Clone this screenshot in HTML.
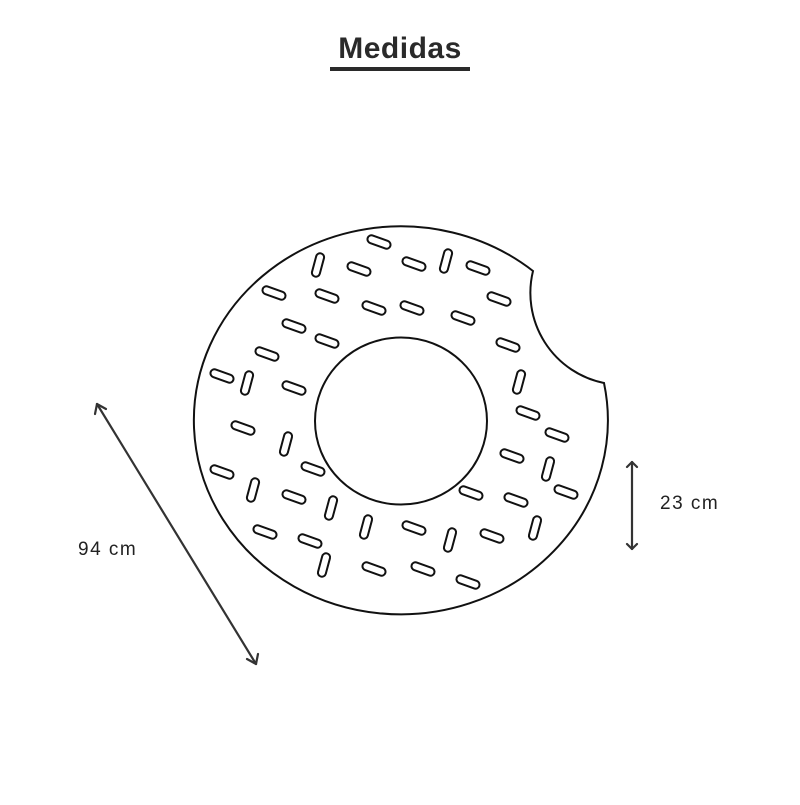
<!DOCTYPE html>
<html><head><style>
body{margin:0;background:#fff;width:800px;height:800px;overflow:hidden}
</style></head><body>
<svg width="800" height="800" viewBox="0 0 800 800" xmlns="http://www.w3.org/2000/svg">
<rect width="800" height="800" fill="#fff"/>
<text x="400" y="58" text-anchor="middle" font-family="Liberation Sans, sans-serif" font-weight="bold" font-size="30" fill="#2a2a2a" letter-spacing="0.5">Medidas</text>
<rect x="330" y="67" width="140" height="4" fill="#2a2a2a"/>
<g fill="none" stroke="#111" stroke-width="2">
<path d="M533 271 A207 194 0 1 0 604 383 A92 92 0 0 1 533 271 Z"/>
<ellipse cx="401" cy="421" rx="86" ry="83.5"/>
</g>
<g fill="none" stroke="#111" stroke-width="2">
<defs><rect id="s" x="-12" y="-4" width="24" height="8" rx="4"/></defs>
<use href="#s" transform="translate(379,242) rotate(20)"/>
<use href="#s" transform="translate(318,265) rotate(-75)"/>
<use href="#s" transform="translate(359,269) rotate(20)"/>
<use href="#s" transform="translate(414,264) rotate(20)"/>
<use href="#s" transform="translate(446,261) rotate(-75)"/>
<use href="#s" transform="translate(478,268) rotate(20)"/>
<use href="#s" transform="translate(274,293) rotate(20)"/>
<use href="#s" transform="translate(327,296) rotate(20)"/>
<use href="#s" transform="translate(374,308) rotate(20)"/>
<use href="#s" transform="translate(412,308) rotate(20)"/>
<use href="#s" transform="translate(499,299) rotate(20)"/>
<use href="#s" transform="translate(463,318) rotate(20)"/>
<use href="#s" transform="translate(294,326) rotate(20)"/>
<use href="#s" transform="translate(327,341) rotate(20)"/>
<use href="#s" transform="translate(508,345) rotate(20)"/>
<use href="#s" transform="translate(267,354) rotate(20)"/>
<use href="#s" transform="translate(222,376) rotate(20)"/>
<use href="#s" transform="translate(247,383) rotate(-75)"/>
<use href="#s" transform="translate(294,388) rotate(20)"/>
<use href="#s" transform="translate(519,382) rotate(-75)"/>
<use href="#s" transform="translate(528,413) rotate(20)"/>
<use href="#s" transform="translate(243,428) rotate(20)"/>
<use href="#s" transform="translate(286,444) rotate(-75)"/>
<use href="#s" transform="translate(557,435) rotate(20)"/>
<use href="#s" transform="translate(512,456) rotate(20)"/>
<use href="#s" transform="translate(313,469) rotate(20)"/>
<use href="#s" transform="translate(222,472) rotate(20)"/>
<use href="#s" transform="translate(548,469) rotate(-75)"/>
<use href="#s" transform="translate(253,490) rotate(-75)"/>
<use href="#s" transform="translate(471,493) rotate(20)"/>
<use href="#s" transform="translate(294,497) rotate(20)"/>
<use href="#s" transform="translate(516,500) rotate(20)"/>
<use href="#s" transform="translate(566,492) rotate(20)"/>
<use href="#s" transform="translate(331,508) rotate(-75)"/>
<use href="#s" transform="translate(366,527) rotate(-75)"/>
<use href="#s" transform="translate(414,528) rotate(20)"/>
<use href="#s" transform="translate(535,528) rotate(-75)"/>
<use href="#s" transform="translate(265,532) rotate(20)"/>
<use href="#s" transform="translate(492,536) rotate(20)"/>
<use href="#s" transform="translate(450,540) rotate(-75)"/>
<use href="#s" transform="translate(310,541) rotate(20)"/>
<use href="#s" transform="translate(324,565) rotate(-75)"/>
<use href="#s" transform="translate(374,569) rotate(20)"/>
<use href="#s" transform="translate(423,569) rotate(20)"/>
<use href="#s" transform="translate(468,582) rotate(20)"/>
</g>
<g fill="none" stroke="#333" stroke-width="2.2" stroke-linecap="round" stroke-linejoin="round">
<line x1="97" y1="404" x2="256" y2="664"/>
<polyline points="95,414 97,404 106,409"/>
<polyline points="247,659 256,664 258,654"/>
<line x1="632" y1="462" x2="632" y2="549"/>
<polyline points="627,467 632,462 637,467"/>
<polyline points="627,544 632,549 637,544"/>
</g>
<text x="78" y="555" font-family="Liberation Sans, sans-serif" font-size="19" letter-spacing="1.5" fill="#222">94 cm</text>
<text x="660" y="509" font-family="Liberation Sans, sans-serif" font-size="19" letter-spacing="1.5" fill="#222">23 cm</text>
</svg>
</body></html>
